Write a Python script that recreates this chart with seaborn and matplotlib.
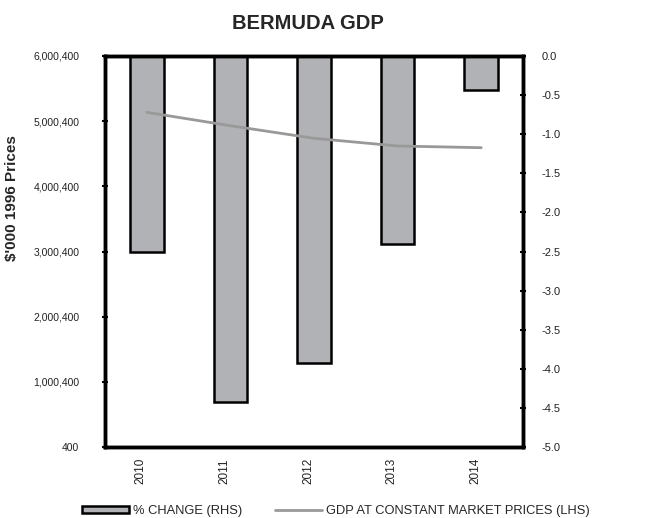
import matplotlib
matplotlib.use("Agg")
import matplotlib.pyplot as plt
import matplotlib.ticker as mtick
from matplotlib.patches import Patch
from matplotlib.lines import Line2D
import pandas as pd
import seaborn as sns

years = ["2010", "2011", "2012", "2013", "2014"]
pct_change = [-2.50, -4.42, -3.93, -2.40, -0.43]
gdp = [5136400, 4930400, 4737400, 4619400, 4593400]

df = pd.DataFrame({"Year": years, "Change": pct_change, "GDP": gdp})

sns.set_theme(style="white")
plt.rcParams["font.family"] = ["Liberation Sans", "DejaVu Sans"]

fig = plt.figure(figsize=(6.63, 5.18), dpi=100)
ax = fig.add_axes([105 / 663, 1 - 447 / 518, 418 / 663, 391 / 518])
ax2 = ax.twinx()

# bars on the right-hand axis
sns.barplot(data=df, x="Year", y="Change", ax=ax2, color="#b1b2b5",
            edgecolor="black", linewidth=1.8, width=0.4, saturation=1)
ax2.set_ylim(-5, 0)
ax2.yaxis.set_major_locator(mtick.MultipleLocator(0.5))
ax2.yaxis.set_major_formatter(mtick.FormatStrFormatter("%.1f"))
ax2.set_ylabel("")

# line on the left-hand axis
sns.lineplot(data=df, x="Year", y="GDP", ax=ax, color="#999999", linewidth=2)
ax.set_ylim(400, 6000400)
ax.set_yticks([400 + i * 1000000 for i in range(7)])
ax.yaxis.set_major_formatter(mtick.FuncFormatter(lambda v, p: f"{int(round(v)):,}"))
ax.set_xlim(-0.5, 4.5)
ax.set_xlabel("")
ax.set_ylabel("\\$'000 1996 Prices", fontsize=11, fontweight="bold")
ax.yaxis.set_label_coords(-0.206, 0.637)

ax.set_zorder(ax2.get_zorder() + 1)
ax.patch.set_visible(False)

for a in (ax, ax2):
    for s in a.spines.values():
        s.set_linewidth(2.5)
        s.set_color("black")
    a.tick_params(axis="y", direction="inout", length=5, width=1.5,
                  labelsize=7.5, colors="black", labelcolor="#222222")
ax.tick_params(axis="y", pad=16)
ax2.tick_params(axis="y", pad=11, labelsize=8)
ax.tick_params(axis="x", length=0, labelsize=8.5, pad=8, labelcolor="#222222")
plt.setp(ax.get_xticklabels(), rotation=90, va="top", ha="right")

fig.suptitle("BERMUDA GDP", x=0.465, y=0.973, fontsize=14.5, fontweight="bold",
             family=["Liberation Sans Narrow", "Liberation Sans", "DejaVu Sans"])

handles = [
    Patch(facecolor="#b1b2b5", edgecolor="black", linewidth=1.8),
    Line2D([0], [0], color="#999999", linewidth=2),
]
labels = ["% CHANGE (RHS)", "GDP AT CONSTANT MARKET PRICES (LHS)"]
fig.legend(handles, labels, loc="center", bbox_to_anchor=(0.507, 0.014), ncol=2,
           frameon=False, fontsize=9.3, handlelength=3.6, handleheight=0.45,
           columnspacing=2.5, handletextpad=0.35, borderpad=0)

fig.savefig("out.png", dpi=100)
